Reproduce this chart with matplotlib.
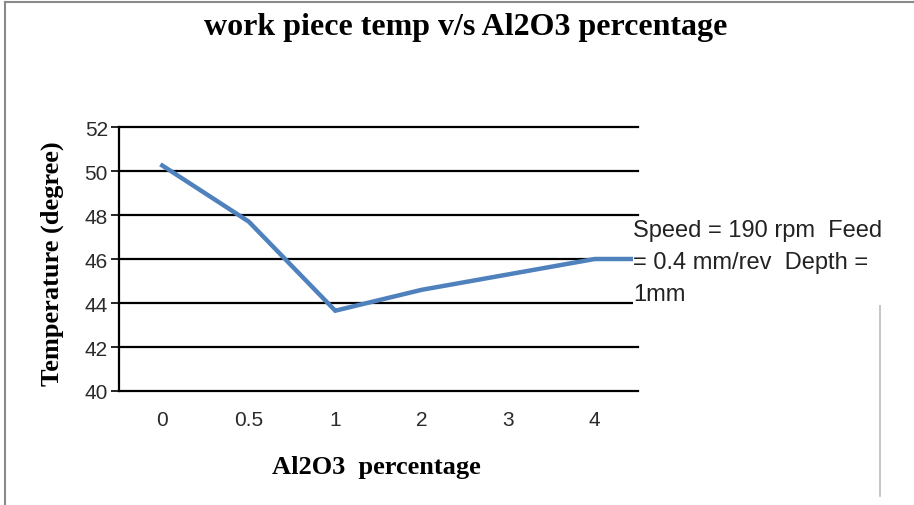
import matplotlib
matplotlib.use("Agg")
import matplotlib.pyplot as plt
from matplotlib.lines import Line2D

categories = ["0", "0.5", "1", "2", "3", "4"]
temps = [50.25, 47.7, 43.65, 44.6, 45.3, 46.0]
tail_value = 46.0  # line continues flat past the last category
y_ticks = [40, 42, 44, 46, 48, 50, 52]

title = "work piece temp v/s Al2O3 percentage"
xlabel = "Al2O3  percentage"
ylabel = "Temperature (degree)"
note = "Speed = 190 rpm  Feed\n= 0.4 mm/rev  Depth =\n1mm"

W, H = 914, 506
fig = plt.figure(figsize=(W / 100, H / 100), dpi=100)
ax = fig.add_axes([119 / W, 1 - 392 / H, (638 - 119) / W, (392 - 128) / H])

xs = list(range(len(categories) + 1))
ys = temps + [tail_value]
ax.plot(xs, ys, color="#4F81BD", lw=3.2, solid_joinstyle="miter", zorder=3)

ax.set_xlim(-0.5, len(categories) - 0.5)
ax.set_ylim(y_ticks[0], y_ticks[-1])
ax.set_yticks(y_ticks)
ax.set_xticks(range(len(categories)))
ax.set_xticklabels(categories)
for y in y_ticks[1:]:
    ax.axhline(y, color="black", lw=1.6, zorder=1, clip_on=False)

for s in ["top", "right"]:
    ax.spines[s].set_visible(False)
ax.spines["left"].set_linewidth(1.6)
ax.spines["bottom"].set_linewidth(1.6)
ax.tick_params(axis="y", direction="out", length=6, width=1.2,
               labelsize=15, pad=2)
ax.tick_params(axis="x", length=0, labelsize=15, pad=14)
for lab in ax.get_xticklabels() + ax.get_yticklabels():
    lab.set_family("Liberation Sans")
    lab.set_color("#2a2a2a")

fig.text(466 / W, 1 - 28 / H, title, ha="center", va="center",
         family="Liberation Serif", weight="bold", fontsize=23)
fig.text(376 / W, 1 - 468 / H, xlabel, ha="center", va="center",
         family="Liberation Serif", weight="bold", fontsize=19)
fig.text(52 / W, 1 - 264 / H, ylabel, ha="center", va="center", rotation=90,
         family="Liberation Serif", weight="bold", fontsize=19)

fig.text(633 / W, 1 - 263 / H, note, ha="left", va="center",
         family="Liberation Sans", fontsize=17, linespacing=1.6,
         color="#222222",
         bbox=dict(facecolor="white", edgecolor="none", pad=0),
         zorder=5)

# outer chart border
fig.add_artist(Line2D([5 / W, 5 / W], [0, 1 - 3 / H], color="#8a8a8a", lw=1.5,
                      transform=fig.transFigure))
fig.add_artist(Line2D([5 / W, 1], [1 - 3 / H, 1 - 3 / H], color="#8a8a8a", lw=1.5,
                      transform=fig.transFigure))
fig.add_artist(Line2D([880 / W, 880 / W], [1 - 497 / H, 1 - 306 / H], color="#bbbbbb",
                      lw=1.2, transform=fig.transFigure))

fig.savefig("out.png", dpi=100)
